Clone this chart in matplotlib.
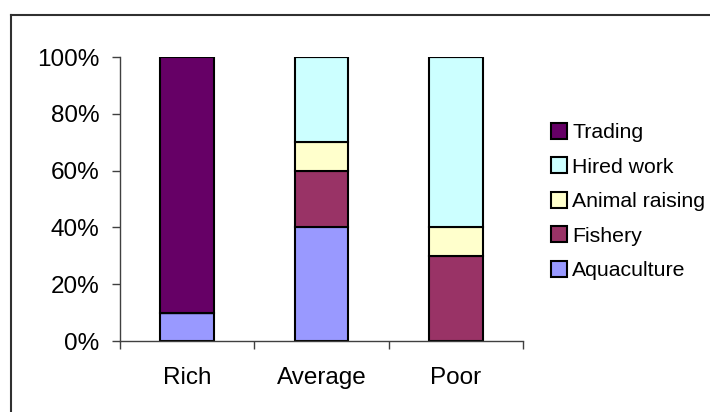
import matplotlib.pyplot as plt
from matplotlib.lines import Line2D
from matplotlib.patches import Rectangle
import numpy as np

plt.rcParams['font.family'] = ['Liberation Sans', 'DejaVu Sans']

# --- DATA ---
groups = ['Rich', 'Average', 'Poor']
series = ['Aquaculture', 'Fishery', 'Animal raising', 'Hired work', 'Trading']
aquaculture = [10, 40, 0]
fishery = [0, 20, 30]
animal_raising = [0, 10, 10]
hired_work = [0, 30, 60]
trading = [90, 0, 0]
colors = ['#9999FF', '#993366', '#FFFFCC', '#CCFFFF', '#660066']
yticks = [0, 20, 40, 60, 80, 100]

values = [aquaculture, fishery, animal_raising, hired_work, trading]

# --- Setup plot ---
fig = plt.figure(figsize=(7.1, 4.12), dpi=100)
ax = fig.add_axes([120 / 710, 1 - 341 / 412, 403 / 710, 284 / 412])

x = np.arange(len(groups))
bottom = np.zeros(len(groups))
for name, vals, col in zip(series, values, colors):
    vals = np.array(vals, dtype=float)
    ax.bar(x, vals, width=0.4, bottom=bottom, color=col,
           edgecolor='black', linewidth=1.5, label=name)
    bottom += vals

ax.set_xlim(-0.5, len(groups) - 0.5)
ax.set_ylim(0, 100)

ax.set_yticks(yticks)
ax.set_yticklabels([f"{t}%" for t in yticks])
ax.set_xticks(x)
ax.set_xticklabels(groups)
ax.set_xticks(np.arange(len(groups) + 1) - 0.5, minor=True)

ax.tick_params(axis='y', length=6, width=1, color='#404040', pad=9, labelsize=17.5)
ax.tick_params(axis='x', which='major', length=0, pad=19, labelsize=17.5)
ax.tick_params(axis='x', which='minor', length=6, width=1, color='#404040')

for side in ['top', 'right']:
    ax.spines[side].set_visible(False)
for side in ['left', 'bottom']:
    ax.spines[side].set_color('#404040')
    ax.spines[side].set_linewidth(1)

# legend, reversed order like the original
handles = [Rectangle((0, 0), 1, 1, facecolor=c, edgecolor='black', linewidth=1.5)
           for c in colors][::-1]
leg = fig.legend(handles, series[::-1], loc='upper left',
                 bbox_to_anchor=(551 / 710, 1 - 123 / 412), frameon=False,
                 fontsize=15.3, handlelength=0.75, handleheight=0.75,
                 handletextpad=0.25, labelspacing=0.72, borderaxespad=0,
                 borderpad=0)

# chart area border (top and left visible)
fig.add_artist(Line2D([11 / 710, 1], [1 - 15 / 412, 1 - 15 / 412],
                      transform=fig.transFigure, color='#303030', linewidth=1.5))
fig.add_artist(Line2D([11 / 710, 11 / 710], [0, 1 - 15 / 412],
                      transform=fig.transFigure, color='#303030', linewidth=1.5))

fig.savefig('out.png', dpi=100)
